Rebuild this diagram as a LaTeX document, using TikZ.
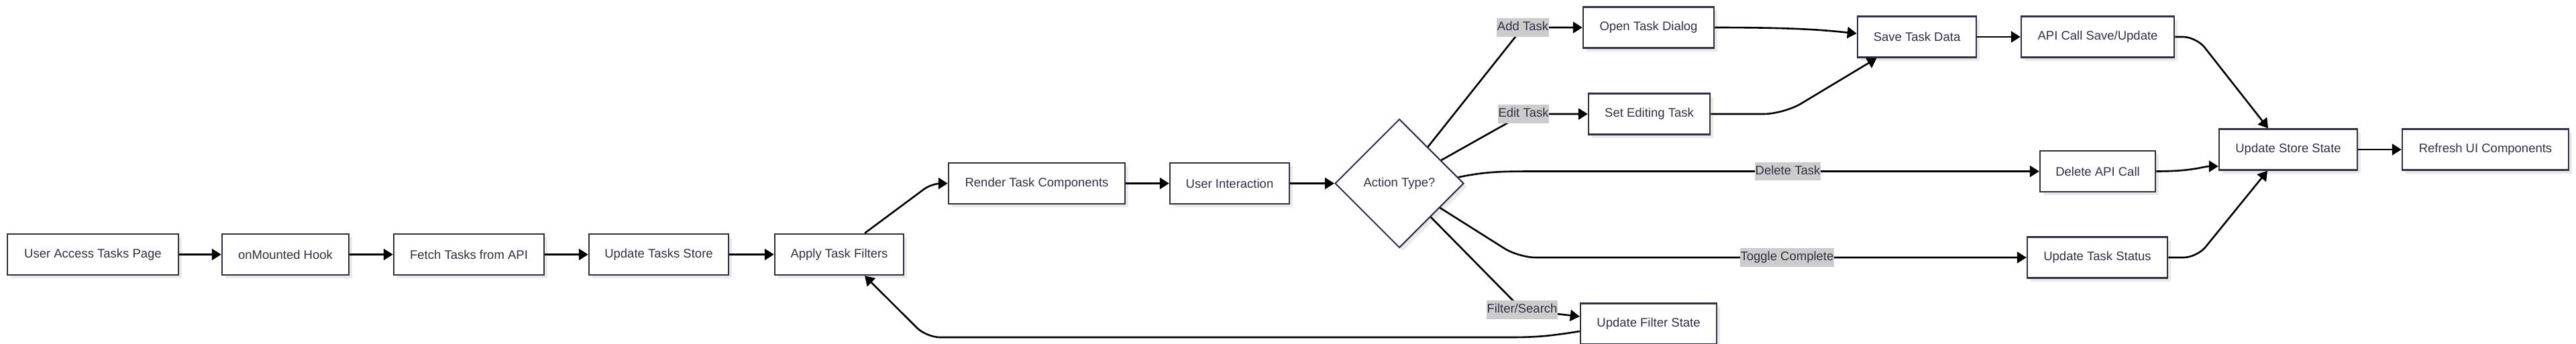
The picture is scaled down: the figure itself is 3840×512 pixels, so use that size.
\documentclass[tikz,border=0pt]{standalone}
\usepackage{fontspec}
\setmainfont{Liberation Sans}
\usetikzlibrary{arrows.meta,shapes.geometric,shadows}
\definecolor{bcol}{HTML}{2F2F45}
\definecolor{tcol}{HTML}{2F2F45}
\definecolor{lbl}{HTML}{CCCCCC}
\definecolor{shd}{HTML}{EAEAEA}
\tikzset{
  myshadow/.style={drop shadow={shadow xshift=5pt, shadow yshift=-5pt, fill=shd, opacity=1, draw=none}},
  box/.style={draw=bcol, line width=2.5pt, fill=white, text=tcol, minimum height=61pt,
    inner sep=0pt, font=\fontsize{18.5}{22}\selectfont, myshadow},
  dec/.style={diamond, draw=bcol, line width=2pt, fill=white, text=tcol, minimum width=192pt,
    minimum height=192pt, inner sep=0pt, font=\fontsize{18.5}{22}\selectfont, myshadow},
  edge/.style={draw=black, line width=2.6pt, -{Triangle[length=14pt,width=17pt]}},
  lab/.style={sharp corners, fill=lbl, text=tcol, font=\fontsize{18.5}{22}\selectfont, inner xsep=0.5pt,
    inner ysep=5pt, text height=13.5pt, text depth=4pt}
}
\begin{document}
\begin{tikzpicture}[x=1pt,y=-1pt]
\useasboundingbox[fill=white] (0,0) rectangle (3840,512);
% nodes
\node[box, minimum width=255pt] (user) at (138.5,379.5) {User Access Tasks Page};
\node[box, minimum width=189pt] (mount) at (425.5,379.5) {onMounted Hook};
\node[box, minimum width=224pt] (fetch) at (699,379.5) {Fetch Tasks from API};
\node[box, minimum width=208pt] (store) at (982,379.5) {Update Tasks Store};
\node[box, minimum width=192pt] (filt) at (1251,379.5) {Apply Task Filters};
\node[box, minimum width=263pt] (render) at (1545.5,273.5) {Render Task Components};
\node[box, minimum width=178pt] (inter) at (1833,273.5) {User Interaction};
\node[dec] (act) at (2086,273.5) {Action Type?};
\node[box, minimum width=195pt] (open) at (2457.5,41) {Open Task Dialog};
\node[box, minimum width=181pt] (sedit) at (2458.5,170) {Set Editing Task};
\node[box, minimum width=177pt] (save) at (2857.5,55) {Save Task Data};
\node[box, minimum width=228pt] (apis) at (3127,55) {API Call Save/Update};
\node[box, minimum width=172pt] (dela) at (3127,255.5) {Delete API Call};
\node[box, minimum width=209pt] (stat) at (3126.5,384) {Update Task Status};
\node[box, minimum width=203pt] (fst) at (2457.5,483) {Update Filter State};
\node[box, minimum width=206pt] (ups) at (3411,223) {Update Store State};
\node[box, minimum width=248pt] (refr) at (3705,223) {Refresh UI Components};
% edges
\draw[edge] (user) -- (mount);
\draw[edge] (mount) -- (fetch);
\draw[edge] (fetch) -- (store);
\draw[edge] (store) -- (filt);
\draw[edge, rounded corners=14pt] ([xshift=38pt]filt.north) -- (1389,273.5) -- (render.west);
\draw[edge] (render) -- (inter);
\draw[edge] (inter) -- (act);
\draw[edge, rounded corners=10pt] (act.52) -- (2270,41) node[lab]{Add Task} -- (open.west);
\draw[edge, rounded corners=10pt] (act.29) -- (2271,170) node[lab]{Edit Task} -- (sedit.west);
\draw[edge] (act.6) .. controls (2215,256) and (2235,255.5) .. (2290,255.5) -- (2665,255.5) node[lab]{Delete Task} -- (dela.west);
\draw[edge, rounded corners=25pt] (act.-31) -- (2264,384) -- (2664,384) node[lab]{Toggle Complete} -- (stat.west);
\draw[edge] (act.-47) -- (2269,462) node[lab]{Filter/Search} -- ([yshift=11pt]fst.west);
\draw[edge] (open.east) .. controls (2680,41) and (2720,45) .. ([yshift=5pt]save.west);
\draw[edge, rounded corners=30pt] (sedit.east) -- (2659,170) -- ([xshift=-60pt]save.south);
\draw[edge] (save) -- (apis);
\draw[edge, rounded corners=20pt] (apis.east) -- (3274,55) -- ([xshift=-30pt]ups.north);
\draw[edge] (dela.east) .. controls (3270,255.5) and (3285,248) .. ([yshift=-25pt]ups.west);
\draw[edge, rounded corners=20pt] (stat.east) -- (3275,384) -- ([xshift=-31pt]ups.south);
\draw[edge] (ups) -- (refr);
\draw[edge, rounded corners=20pt] ([yshift=-11pt]fst.west) .. controls (2300,503) and (2280,503) .. (2220,503) -- (1381,503) -- ([xshift=38pt]filt.south);
\end{tikzpicture}
\end{document}
